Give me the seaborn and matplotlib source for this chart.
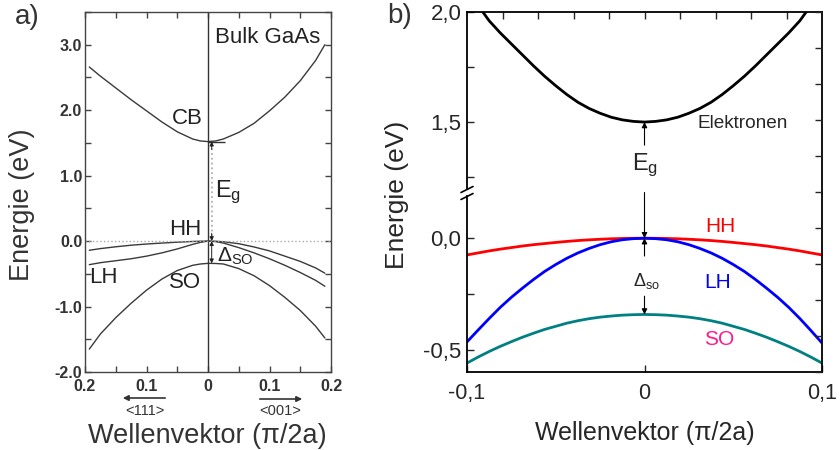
import matplotlib
matplotlib.use("Agg")
import matplotlib.pyplot as plt
import seaborn as sns
import pandas as pd
from matplotlib.lines import Line2D
from matplotlib.patches import FancyArrowPatch
from matplotlib.ticker import MultipleLocator, FixedLocator

# ---------------- data: panel a (Bulk GaAs, k in pi/2a, left = <111>, right = <001>)
k_a = [-0.193, -0.175, -0.15, -0.125, -0.1, -0.075, -0.05, -0.025, -0.0125, 0.0,
       0.0125, 0.025, 0.05, 0.075, 0.1, 0.125, 0.15, 0.175, 0.19]
cb_a = [2.66, 2.52, 2.34, 2.16, 1.99, 1.82, 1.67, 1.56, 1.53, 1.52,
        1.53, 1.56, 1.66, 1.80, 1.99, 2.20, 2.45, 2.76, 3.00]
hh_a = [-0.14, -0.115, -0.087, -0.063, -0.045, -0.030, -0.017, -0.006, -0.002, 0.0,
        -0.003, -0.010, -0.040, -0.090, -0.150, -0.230, -0.310, -0.410, -0.490]
lh_a = [-0.36, -0.33, -0.30, -0.27, -0.23, -0.18, -0.12, -0.05, -0.02, 0.0,
        -0.008, -0.03, -0.10, -0.18, -0.27, -0.37, -0.48, -0.60, -0.69]
so_a = [-1.65, -1.42, -1.17, -0.95, -0.75, -0.58, -0.45, -0.37, -0.35, -0.34,
        -0.342, -0.35, -0.42, -0.53, -0.68, -0.86, -1.06, -1.30, -1.48]
xtick_a = [-0.2, -0.1, 0.0, 0.1, 0.2]
xticklabels_a = ["0.2", "0.1", "0", "0.1", "0.2"]
ytick_a = [-2, -1, 0, 1, 2, 3]
yticklabels_a = ["-2.0", "-1.0", "0.0", "1.0", "2.0", "3.0"]

# ---------------- data: panel b
k_b = [-0.1, -0.09375, -0.0875, -0.08125, -0.075, -0.06875, -0.0625, -0.05625,
       -0.05, -0.04375, -0.0375, -0.03125, -0.025, -0.01875, -0.0125, -0.00625,
       0.0,
       0.00625, 0.0125, 0.01875, 0.025, 0.03125, 0.0375, 0.04375, 0.05,
       0.05625, 0.0625, 0.06875, 0.075, 0.08125, 0.0875, 0.09375, 0.1]
el_b = [2.10, 2.03, 1.96, 1.905, 1.855, 1.805, 1.755, 1.708,
        1.665, 1.625, 1.590, 1.562, 1.540, 1.522, 1.510, 1.503,
        1.500,
        1.503, 1.510, 1.522, 1.540, 1.562, 1.590, 1.625, 1.665,
        1.708, 1.755, 1.805, 1.855, 1.905, 1.96, 2.03, 2.10]
hh_b = [-0.075, -0.066, -0.057, -0.049, -0.042, -0.035, -0.029, -0.024,
        -0.019, -0.0144, -0.0105, -0.0073, -0.0047, -0.0026, -0.0012, -0.0003,
        0.0,
        -0.0003, -0.0012, -0.0026, -0.0047, -0.0073, -0.0105, -0.0144, -0.019,
        -0.024, -0.029, -0.035, -0.042, -0.049, -0.057, -0.066, -0.075]
lh_b = [-0.465, -0.412, -0.36, -0.31, -0.265, -0.224, -0.185, -0.149,
        -0.118, -0.09, -0.066, -0.046, -0.029, -0.016, -0.007, -0.002,
        0.0,
        -0.002, -0.007, -0.016, -0.029, -0.046, -0.066, -0.09, -0.118,
        -0.149, -0.185, -0.224, -0.265, -0.31, -0.36, -0.414, -0.47]
so_b = [-0.56, -0.533, -0.508, -0.485, -0.464, -0.444, -0.426, -0.409,
        -0.395, -0.381, -0.37, -0.361, -0.354, -0.349, -0.345, -0.343,
        -0.342,
        -0.343, -0.345, -0.349, -0.354, -0.361, -0.37, -0.381, -0.395,
        -0.409, -0.426, -0.444, -0.464, -0.485, -0.508, -0.533, -0.56]
xtick_b = [-0.1, 0.0, 0.1]
xticklabels_b = ["-0,1", "0", "0,1"]

sns.set_style("ticks")
plt.rcParams["font.family"] = ["Liberation Sans", "DejaVu Sans"]
plt.rcParams["mathtext.fontset"] = "custom"
plt.rcParams["mathtext.rm"] = "Liberation Sans"
plt.rcParams["mathtext.it"] = "Liberation Sans:italic"
plt.rcParams["mathtext.bf"] = "Liberation Sans:bold"

W, H = 840, 450
fig = plt.figure(figsize=(W / 100, H / 100), dpi=100)


def fx(x):
    return x / W


def fy(y):
    return 1 - y / H


# ======================= panel a =======================
gray = "#3a3a3a"
axA = fig.add_axes([fx(85), fy(372), 246 / W, 360 / H])
dfa = pd.DataFrame({"k": k_a, "CB": cb_a, "HH": hh_a, "LH": lh_a, "SO": so_a})
for band in ["CB", "HH", "LH", "SO"]:
    sns.lineplot(data=dfa, x="k", y=band, ax=axA, color=gray, lw=1.0,
                 sort=False, estimator=None, solid_joinstyle="round")
axA.set_xlim(-0.2, 0.2)
axA.set_ylim(-2.0, 3.5)
axA.axvline(0, color="#333333", lw=1.0)
axA.axhline(0, color="#aaaaaa", ls=":", lw=1.0)
axA.vlines(0.006, 0, 1.52, colors="#b0b0b0", linestyles=":", lw=1.3)
axA.hlines(1.52, 0, 0.027, colors="#333333", lw=1.0)
ap = dict(arrowstyle="-|>", color="#222222", lw=0.7, mutation_scale=6,
          shrinkA=0, shrinkB=0)
axA.annotate("", xy=(0.006, 1.52), xytext=(0.006, 1.40), arrowprops=ap)
axA.annotate("", xy=(0.006, 0.0), xytext=(0.006, 0.12), arrowprops=ap)
axA.annotate("", xy=(0.006, 0.0), xytext=(0.006, -0.17), arrowprops=ap)
axA.annotate("", xy=(0.006, -0.34), xytext=(0.006, -0.17), arrowprops=ap)

axA.set_xticks(xtick_a)
axA.set_xticklabels(xticklabels_a)
axA.xaxis.set_minor_locator(MultipleLocator(0.05))
axA.set_yticks(ytick_a)
axA.set_yticklabels(yticklabels_a)
axA.yaxis.set_minor_locator(MultipleLocator(0.5))
axA.tick_params(which="both", direction="in", top=True, right=True,
                length=4, width=1.0, color="#444444", labelsize=11.5,
                labelcolor="#333333")
axA.tick_params(axis="x", pad=5)
axA.tick_params(axis="y", pad=2)
for lab in axA.get_xticklabels() + axA.get_yticklabels():
    lab.set_fontweight("bold")
for s in axA.spines.values():
    s.set_color("#444444")
    s.set_linewidth(1.0)
axA.set_xlabel("")
axA.set_ylabel("")

ta = dict(color="#222222")
axA.text(0.0976, 3.11, "Bulk GaAs", ha="center", va="center", fontsize=16, **ta)
axA.text(-0.034, 1.88, "CB", ha="center", va="center", fontsize=16, **ta)
axA.text(0.011, 0.75, r"$\mathrm{E}_\mathrm{g}$", ha="left", va="center", fontsize=17, **ta)
axA.text(-0.037, 0.17, "HH", ha="center", va="center", fontsize=16, **ta)
axA.text(0.0146, -0.24, r"$\Delta_\mathrm{SO}$", ha="left", va="center", fontsize=15, **ta)
axA.text(-0.17, -0.56, "LH", ha="center", va="center", fontsize=16, **ta)
axA.text(-0.037, -0.63, "SO", ha="center", va="center", fontsize=16, **ta)

# direction arrows below panel a
fig.add_artist(FancyArrowPatch(
    (fx(168), fy(398)), (fx(120), fy(398)), transform=fig.transFigure,
    arrowstyle="-|>", mutation_scale=8, lw=1.2, color="#333333"))
fig.add_artist(FancyArrowPatch(
    (fx(257), fy(399)), (fx(305), fy(399)), transform=fig.transFigure,
    arrowstyle="-|>", mutation_scale=8, lw=1.2, color="#333333"))
fig.text(fx(145), fy(411), "<111>", ha="center", va="center", fontsize=10.5, color="#333333")
fig.text(fx(280), fy(411), "<001>", ha="center", va="center", fontsize=10.5, color="#333333")
fig.text(fx(207), fy(436), "Wellenvektor (π/2a)", ha="center", va="center",
         fontsize=19.5, color="#333333")
fig.text(fx(22), fy(205), "Energie (eV)", ha="center", va="center",
         rotation=90, fontsize=19.5, color="#333333")
fig.text(fx(27), fy(17), "a)", ha="center", va="center", fontsize=20, color="#333333")

# ======================= panel b =======================
bl, bw = fx(467), 355 / W
axU = fig.add_axes([bl, fy(192.5), bw, 180.5 / H])
axL = fig.add_axes([bl, fy(372), bw, 179.5 / H])
axR = fig.add_axes([bl, fy(372), bw, 360 / H], zorder=5)

dfb = pd.DataFrame({"k": k_b, "el": el_b, "HH": hh_b, "LH": lh_b, "SO": so_b})
sns.lineplot(data=dfb, x="k", y="el", ax=axU, color="black", lw=2.0,
             sort=False, estimator=None, solid_joinstyle="round")
for band, col in [("HH", "#ff0000"), ("LH", "#0000ff"), ("SO", "#008080")]:
    sns.lineplot(data=dfb, x="k", y=band, ax=axL, color=col, lw=2.0,
                 sort=False, estimator=None, solid_joinstyle="round")

for ax in (axU, axL):
    ax.set_xlim(-0.1, 0.1)
    ax.set_xlabel("")
    ax.set_ylabel("")
    for s in ax.spines.values():
        s.set_linewidth(1.3)
        s.set_color("black")
axU.set_ylim(1.18, 2.0)
axL.set_ylim(-0.6, 0.205)
axU.spines["bottom"].set_visible(False)
axL.spines["top"].set_visible(False)
axU.spines["left"].set_bounds(1.2, 2.0)
axL.spines["left"].set_bounds(-0.6, 0.19)

# upper axes ticks
axU.set_yticks([1.5, 2.0])
axU.set_yticklabels(["1,5", "2,0"])
axU.yaxis.set_minor_locator(FixedLocator([1.25, 1.75]))
axU.set_xticks([-0.08, -0.06, -0.04, -0.02, 0.0, 0.02, 0.04, 0.06, 0.08])
axU.tick_params(axis="x", which="both", bottom=False, top=True,
                labelbottom=False, labeltop=False, direction="in",
                length=5, width=1.0)
axU.tick_params(axis="y", which="both", left=True, right=False,
                direction="in", length=5, width=1.0, labelsize=16, pad=4)

# lower axes ticks
axL.set_yticks([-0.5, 0.0])
axL.set_yticklabels(["-0,5", "0,0"])
axL.yaxis.set_minor_locator(FixedLocator([-0.25]))
axL.set_xticks(xtick_b)
axL.set_xticklabels(xticklabels_b)
axL.tick_params(axis="x", which="both", bottom=True, top=False,
                direction="in", length=5, width=1.0, labelsize=15.5, pad=8)
axL.tick_params(axis="y", which="both", left=True, right=False,
                direction="in", length=5, width=1.0, labelsize=16, pad=4)

# right-side ticks (independent layer)
axR.set_ylim(0, 10)
axR.set_xlim(0, 1)
axR.patch.set_visible(False)
for s in axR.spines.values():
    s.set_visible(False)
axR.set_xticks([])
axR.set_yticks(list(range(11)))
axR.tick_params(axis="y", left=False, right=True, labelleft=False,
                labelright=False, direction="in", length=5, width=1.0)

# axis break marks
for yy in (189.5, 196.5):
    fig.add_artist(Line2D([fx(461), fx(473)], [fy(yy + 3), fy(yy - 3)],
                          transform=fig.transFigure, color="black", lw=1.2))

# arrows panel b
bp = dict(arrowstyle="-|>", color="black", lw=0.8, mutation_scale=8,
          shrinkA=0, shrinkB=0)
axU.annotate("", xy=(0, 1.5), xytext=(0, 1.395), arrowprops=bp)
axL.annotate("", xy=(0, 0.0), xytext=(0, 0.205), arrowprops=bp, annotation_clip=False)
axL.annotate("", xy=(0, 0.0), xytext=(0, -0.08), arrowprops=bp)
axL.annotate("", xy=(0, -0.342), xytext=(0, -0.26), arrowprops=bp)

axU.text(0.0555, 1.495, "Elektronen", ha="center", va="center", fontsize=13.7)
axU.text(0.0003, 1.305, r"$\mathrm{E}_\mathrm{g}$", ha="center", va="center", fontsize=17)
axL.text(0.0425, 0.054, "HH", ha="center", va="center", fontsize=15, color="#ff0000")
axL.text(0.0414, -0.198, "LH", ha="center", va="center", fontsize=15, color="#0000ff")
axL.text(0.042, -0.455, "SO", ha="center", va="center", fontsize=15, color="#ff1a8c")
axL.text(0.0014, -0.194, r"$\Delta_\mathrm{so}$", ha="center", va="center", fontsize=13)

fig.text(fx(645), fy(433), "Wellenvektor (π/2a)", ha="center", va="center", fontsize=18)
fig.text(fx(397), fy(195), "Energie (eV)", ha="center", va="center",
         rotation=90, fontsize=19)
fig.text(fx(400), fy(16), "b)", ha="center", va="center", fontsize=20, color="#333333")

fig.savefig("out.png", dpi=100)
